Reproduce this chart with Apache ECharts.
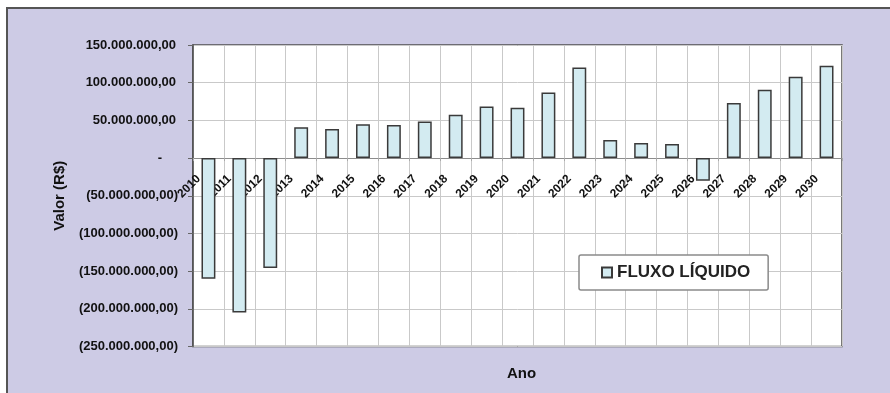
<!DOCTYPE html>
<html>
<head>
<meta charset="utf-8">
<script src="https://cdn.jsdelivr.net/npm/echarts@6/dist/echarts.min.js"></script>
<style>
html,body{margin:0;padding:0;background:#fff;}
#chart{width:890px;height:393px;}
</style>
</head>
<body>
<div id="chart"></div>
<script>
const years = ['2010','2011','2012','2013','2014','2015','2016','2017','2018','2019','2020','2021','2022','2023','2024','2025','2026','2027','2028','2029','2030'];
const fluxoLiquido = [-160e6, -205e6, -146e6, 41e6, 38.5e6, 45e6, 44e6, 48.5e6, 57.5e6, 68.5e6, 66.8e6, 87e6, 120e6, 24e6, 20e6, 18.6e6, -30e6, 73e6, 90.6e6, 108e6, 122.5e6];
const yMin = -250e6;
const yMax = 150e6;
const yStep = 50e6;
const yTickLabels = ['(250.000.000,00)','(200.000.000,00)','(150.000.000,00)','(100.000.000,00)','(50.000.000,00)','-','50.000.000,00','100.000.000,00','150.000.000,00'];
const seriesName = 'FLUXO LÍQUIDO';
const xTitle = 'Ano';
const yTitle = 'Valor (R$)';

const FONT = '"Liberation Sans", Arial, sans-serif';
const GRID_TOP = 45, GRID_BOTTOM = 46.5, H = 393;
const plotH = H - GRID_TOP - GRID_BOTTOM;
const zeroOffset = -plotH * (0 - yMin) / (yMax - yMin);

const chart = echarts.init(document.getElementById('chart'), null, {renderer: 'canvas'});

chart.setOption({
  animation: false,
  backgroundColor: '#ffffff',
  textStyle: {fontFamily: FONT},
  graphic: [{
    type: 'rect', z: -10,
    shape: {x: 7, y: 8, width: 900, height: 400},
    style: {fill: '#cdcbe5', stroke: '#555', lineWidth: 2}
  }],
  title: {
    text: xTitle, left: 502, top: 361,
    textStyle: {fontFamily: FONT, fontWeight: 'bold', fontSize: 15, color: '#111'}
  },
  legend: {
    left: 579, top: 255,
    padding: [9, 18, 9, 22],
    backgroundColor: '#fff',
    borderColor: '#8a8a8a', borderWidth: 1.5, borderRadius: 2,
    icon: 'rect', itemWidth: 10, itemHeight: 10, itemGap: 5,
    textStyle: {fontFamily: FONT, fontWeight: 'bold', fontSize: 17, color: '#222'},
    data: [seriesName]
  },
  grid: {
    left: 193, top: GRID_TOP, right: 48, bottom: GRID_BOTTOM,
    show: true, backgroundColor: '#fff',
    borderColor: '#4d4d4d', borderWidth: 1.5,
    containLabel: false
  },
  xAxis: {
    type: 'category', data: years, boundaryGap: true,
    position: 'bottom', offset: zeroOffset,
    axisLine: {onZero: false, lineStyle: {color: '#8c8c8c', width: 1}},
    axisTick: {show: true, length: 3, lineStyle: {color: '#aaa'}},
    splitLine: {show: true, lineStyle: {color: '#c9c9c9', width: 1}},
    axisLabel: {
      rotate: 45, margin: 9, interval: 0,
      padding: [0, 14, 0, 0],
      fontFamily: FONT, fontWeight: 'bold', fontSize: 12, color: '#111'
    }
  },
  yAxis: {
    type: 'value', min: yMin, max: yMax, interval: yStep,
    name: yTitle, nameLocation: 'middle', nameGap: 126,
    nameTextStyle: {fontFamily: FONT, fontWeight: 'bold', fontSize: 15, color: '#111'},
    axisLine: {show: true, lineStyle: {color: '#4d4d4d', width: 1.5}},
    axisTick: {show: true, length: 5, lineStyle: {color: '#666'}},
    splitLine: {show: true, lineStyle: {color: '#c9c9c9', width: 1}},
    axisLabel: {
      margin: 15,
      fontFamily: FONT, fontWeight: 'bold', fontSize: 13, color: '#111',
      formatter: function (v) {
        const i = Math.round((v - yMin) / yStep);
        const t = yTickLabels[i];
        if (v === 0) return '{z|' + t + '}';
        if (v > 0) return '{p|' + t + '}';
        return t;
      },
      rich: {
        p: {padding: [0, 2, 0, 0], fontFamily: FONT, fontWeight: 'bold', fontSize: 13, color: '#111'},
        z: {padding: [0, 16, 0, 0], fontFamily: FONT, fontWeight: 'bold', fontSize: 13, color: '#111'}
      }
    }
  },
  series: [{
    name: seriesName, type: 'bar', data: fluxoLiquido,
    barWidth: '45%',
    itemStyle: {color: '#d3ebf1', borderColor: '#3a3a3a', borderWidth: 1.5}
  }]
});
</script>
</body>
</html>
